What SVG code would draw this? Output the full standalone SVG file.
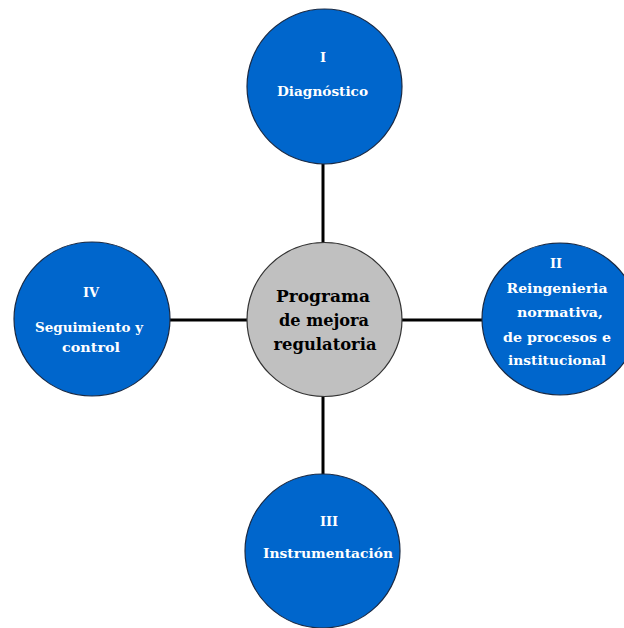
<svg xmlns="http://www.w3.org/2000/svg" width="624" height="628" viewBox="0 0 624 628">
<style>
.blue{fill:#0066CC;stroke:#1a2a44;stroke-width:1.2}
.grey{fill:#C0C0C0;stroke:#333;stroke-width:1.2}
.conn{stroke:#000;stroke-width:3;fill:none}
.wt{font-family:"DejaVu Serif","Liberation Serif",serif;font-weight:bold;font-size:13px;fill:#fff;text-anchor:middle}
.bt{font-family:"DejaVu Serif","Liberation Serif",serif;font-weight:bold;font-size:16px;fill:#000;text-anchor:middle}
</style>
<rect width="624" height="628" fill="#fff"/>
<g id="connectors">
<line class="conn" x1="323" y1="164" x2="323" y2="243"/>
<line class="conn" x1="323" y1="396" x2="323" y2="474"/>
<line class="conn" x1="170" y1="320" x2="247" y2="320"/>
<line class="conn" x1="402" y1="320" x2="482" y2="320"/>
</g>
<g id="node-center">
<ellipse class="grey" cx="324.5" cy="319.5" rx="77.5" ry="77"/>
<text class="bt" x="323" y="302" textLength="94" lengthAdjust="spacingAndGlyphs">Programa</text>
<text class="bt" x="324" y="326" textLength="90" lengthAdjust="spacingAndGlyphs">de mejora</text>
<text class="bt" x="325" y="350" textLength="103" lengthAdjust="spacingAndGlyphs">regulatoria</text>
</g>
<g id="node-I">
<ellipse class="blue" cx="324.5" cy="86.5" rx="77.5" ry="77.5"/>
<text class="wt" x="323" y="62">I</text>
<text class="wt" x="322.5" y="96" textLength="91" lengthAdjust="spacingAndGlyphs">Diagnóstico</text>
</g>
<g id="node-II">
<ellipse class="blue" cx="560" cy="319" rx="78" ry="76"/>
<text class="wt" x="556" y="268">II</text>
<text class="wt" x="557" y="293" textLength="101" lengthAdjust="spacingAndGlyphs">Reingenieria</text>
<text class="wt" x="560" y="317" textLength="86" lengthAdjust="spacingAndGlyphs">normativa,</text>
<text class="wt" x="557" y="342" textLength="108" lengthAdjust="spacingAndGlyphs">de procesos e</text>
<text class="wt" x="557" y="365" textLength="98" lengthAdjust="spacingAndGlyphs">institucional</text>
</g>
<g id="node-III">
<ellipse class="blue" cx="322.5" cy="551" rx="77.5" ry="77"/>
<text class="wt" x="329" y="526">III</text>
<text class="wt" x="328" y="558" textLength="130" lengthAdjust="spacingAndGlyphs">Instrumentación</text>
</g>
<g id="node-IV">
<ellipse class="blue" cx="92" cy="319" rx="78" ry="77"/>
<text class="wt" x="91" y="297">IV</text>
<text class="wt" x="89" y="332" textLength="108" lengthAdjust="spacingAndGlyphs">Seguimiento y</text>
<text class="wt" x="91" y="352" textLength="58" lengthAdjust="spacingAndGlyphs">control</text>
</g>
</svg>
